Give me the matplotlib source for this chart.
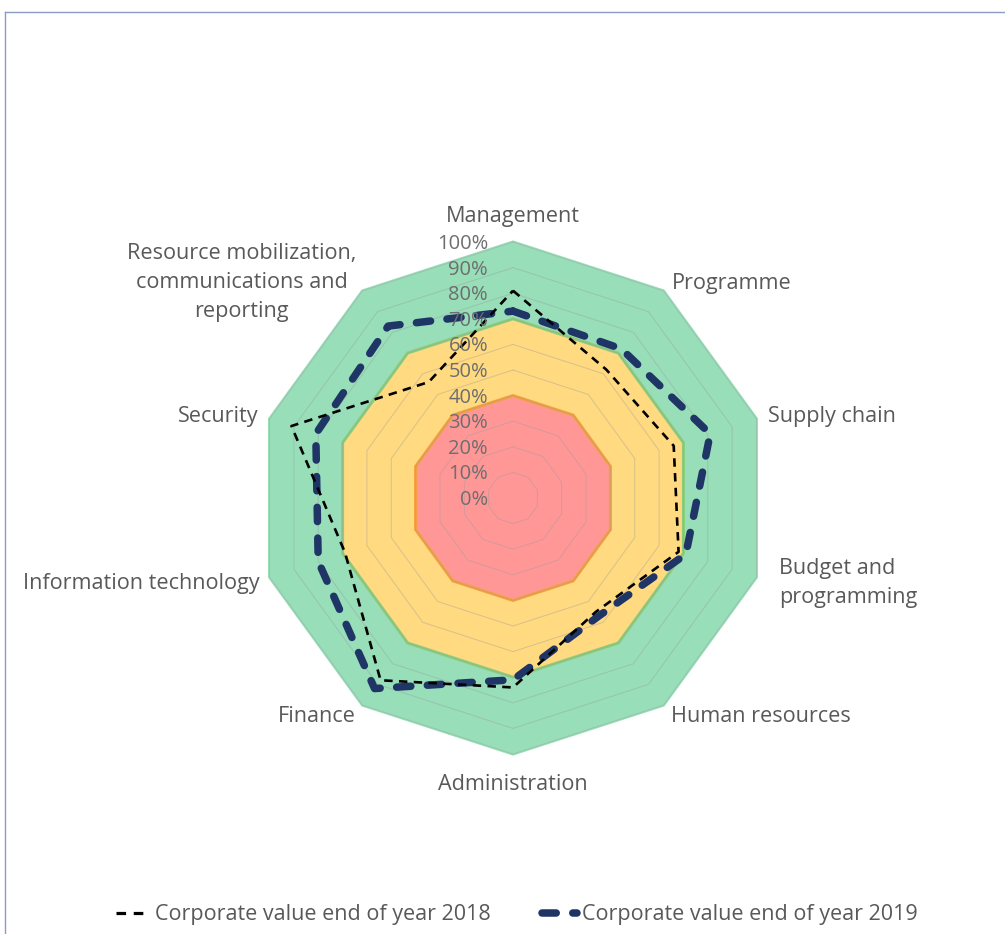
import matplotlib.pyplot as plt
import numpy as np
from matplotlib.lines import Line2D

plt.rcParams['font.family'] = ['Open Sans', 'DejaVu Sans']

## Chart data
categories = ['Management', 'Programme', 'Supply chain', 'Budget and\nprogramming',
              'Human resources', 'Administration', 'Finance', 'Information technology',
              'Security', 'Resource mobilization,\ncommunications and\nreporting']
value_2018 = [81, 62, 66, 68, 55, 74, 88, 69, 91, 56]
value_2019 = [73, 72, 81, 71, 57, 71, 92, 80, 81, 83]
series_names = ['Corporate value end of year 2018', 'Corporate value end of year 2019']
levels = [0, 10, 20, 30, 40, 50, 60, 70, 80, 90, 100]
band_tops = [100, 70, 40]

## Styles
band_colors = ['#97DEB9', '#FFDA80', '#FF9797']
band_edges = ['#97DEB9', '#8CCF7C', '#F7A03E']
col_2018 = 'black'
col_2019 = '#1F3566'
text_col = '#595959'
tick_col = '#6E6E6E'

# label offsets from the 100% vertex, in pixels (dx, dy up) and alignment
label_pos = [(0, 25, 'center', 'center'), (8, 7, 'left', 'center'),
             (12, 2, 'left', 'center'), (23, -6, 'left', 'center'),
             (8, -11, 'left', 'center'), (0, -30, 'center', 'center'),
             (-7, -11, 'right', 'center'), (-10, -6, 'right', 'center'),
             (-11, 2, 'right', 'center'), (-6, 8, 'right', 'center')]

n = len(categories)
angles = np.linspace(0, 2 * np.pi, n, endpoint=False)
closed = np.append(angles, angles[0])

def close(v):
    return np.append(v, v[0])

fig = plt.figure(figsize=(10.05, 9.34), dpi=100)
ax = fig.add_axes([0.2557, 0.1927, 0.5095, 0.5482], projection='polar')
ax.set_theta_zero_location('N')
ax.set_theta_direction(-1)
ax.set_ylim(0, 100)
ax.set_axis_off()

# coloured bands
for top, fc, ec in zip(band_tops, band_colors, band_edges):
    ax.fill(closed, [top] * (n + 1), facecolor=fc, edgecolor=ec,
            linewidth=2.2, clip_on=False, zorder=1)

# polygon grid
for lv in levels[1:]:
    ax.plot(closed, [lv] * (n + 1), color='#9A9A9A', linewidth=0.7,
            alpha=0.4, zorder=2, clip_on=False)

# radial tick labels
for lv in levels:
    ax.annotate('%d%%' % lv, xy=(0, lv), xytext=(-18, -1.5), textcoords='offset points',
                ha='right', va='center', fontsize=14.5, color=tick_col, zorder=5)

# series
ax.plot(closed, close(value_2019), color=col_2019, linewidth=5.4,
        dashes=(1.9, 2.2), dash_capstyle='round', zorder=3, clip_on=False)
ax.plot(closed, close(value_2018), color=col_2018, linewidth=1.9,
        dashes=(3.2, 2.4), zorder=4, clip_on=False)

# category labels
for ang, cat, (dx, dy, ha, va) in zip(angles, categories, label_pos):
    ax.annotate(cat, xy=(ang, 100), xytext=(dx * 0.72, dy * 0.72),
                textcoords='offset points', ha=ha, va=va, fontsize=15.6,
                color=text_col, multialignment='center' if ha != 'left' else 'left',
                linespacing=1.5, annotation_clip=False)

handles = [Line2D([], [], color=col_2018, linewidth=2.3, dashes=(3.0, 2.4)),
           Line2D([], [], color=col_2019, linewidth=5.4, dashes=(1.9, 2.2),
                  dash_capstyle='round')]
fig.legend(handles, series_names, loc='center', bbox_to_anchor=(0.514, 0.0205),
           ncol=2, frameon=False, fontsize=15.5, labelcolor=text_col,
           handlelength=1.6, handletextpad=0.22, columnspacing=2.4)

# thin frame lines at top and left
fig.add_artist(Line2D([5 / 1005, 1], [1 - 12 / 934, 1 - 12 / 934],
                      color='#8D9CC4', linewidth=1.0))
fig.add_artist(Line2D([5 / 1005, 5 / 1005], [0, 1 - 12 / 934],
                      color='#8D9CC4', linewidth=1.0))

fig.savefig('out.png', dpi=100)
